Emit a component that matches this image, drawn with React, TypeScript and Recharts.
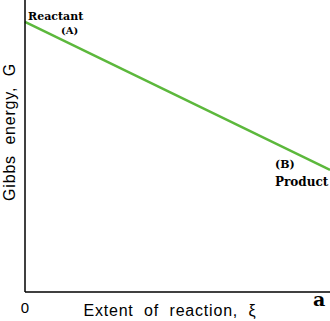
import { LineChart, Line, XAxis, YAxis, ReferenceDot } from "recharts"

const extent = [0, 1]
const gibbs = [92.5, 41.8]
const xTicks = [0]

const data = extent.map((x, i) => ({ x, g: gibbs[i] }))

const serif = "'DejaVu Serif', 'Liberation Serif', serif"
const sans = "'Liberation Sans', Arial, sans-serif"

export default function App() {
  return (
    <div style={{ position: "absolute", left: 0, top: 0, background: "#fff" }}>
      <LineChart width={330} height={321} data={data} margin={{ top: 0, right: 0, bottom: 0, left: 0 }}>
        <XAxis
          dataKey="x"
          type="number"
          domain={[0, 1]}
          ticks={xTicks}
          tickLine={false}
          axisLine={{ stroke: "#000", strokeWidth: 1.5 }}
          tick={{ fill: "#000", fontSize: 15, fontFamily: sans }}
          tickMargin={4}
          height={29}
          label={(p: any) => (
            <text x={170} y={316} textAnchor="middle" fill="#000" fontSize={16} letterSpacing={0.8} fontFamily={sans} style={{ whiteSpace: "pre" }}>
              {"Extent  of  reaction,  ξ"}
            </text>
          )}
        />
        <YAxis
          type="number"
          domain={[0, 100]}
          tick={false}
          tickLine={false}
          width={25}
          axisLine={{ stroke: "#000", strokeWidth: 1.5 }}
          label={(p: any) => (
            <text x={15} y={132} transform="rotate(-90 15 132)" textAnchor="middle" fill="#000" fontSize={16} letterSpacing={0.8} fontFamily={sans} style={{ whiteSpace: "pre" }}>
              {"Gibbs  energy,  G"}
            </text>
          )}
        />
        <Line dataKey="g" stroke="#5cb83c" strokeWidth={2.5} dot={false} isAnimationActive={false} />
        <ReferenceDot
          x={0}
          y={gibbs[0]}
          r={0}
          label={(p: any) => (
            <g fontFamily={serif} fontWeight="bold" fill="#000">
              <text x={p.viewBox.x + 3} y={p.viewBox.y - 2} fontSize={11}>Reactant</text>
              <text x={p.viewBox.x + 36} y={p.viewBox.y + 12} fontSize={10}>(A)</text>
            </g>
          )}
        />
        <ReferenceDot
          x={1}
          y={gibbs[1]}
          r={0}
          label={(p: any) => (
            <g fontFamily={serif} fontWeight="bold" fill="#000">
              <text x={p.viewBox.x - 55} y={p.viewBox.y - 2} fontSize={11}>(B)</text>
              <text x={p.viewBox.x - 55} y={p.viewBox.y + 16} fontSize={12}>Product</text>
            </g>
          )}
        />
        <ReferenceDot
          x={1}
          y={0}
          r={0}
          label={(p: any) => (
            <text x={p.viewBox.x - 17} y={p.viewBox.y + 14} fontFamily={serif} fontWeight="bold" fontSize={19} fill="#000">a</text>
          )}
        />
      </LineChart>
    </div>
  )
}
